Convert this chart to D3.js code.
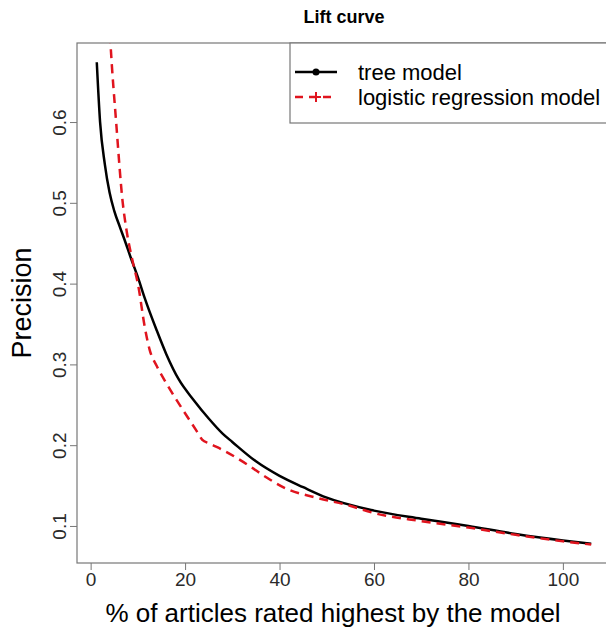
<!DOCTYPE html>
<html>
<head>
<meta charset="utf-8">
<script src="https://cdn.jsdelivr.net/npm/d3@7"></script>
<style>
  body { margin: 0; background: #fff; }
  svg { font-family: "Liberation Sans", Arial, sans-serif; }
</style>
</head>
<body>
<div id="chart"></div>
<script>
// lift curve data
const treeX = [1.3, 2, 3, 4, 5, 6.2, 7.2, 8.5, 10, 11.4, 14, 16, 18.7, 21.8, 25, 28, 30, 35, 40, 45, 50, 60, 70, 80, 90, 100, 106]
const treeY = [0.674, 0.6, 0.548, 0.513, 0.49, 0.47, 0.454, 0.432, 0.408, 0.383, 0.342, 0.313, 0.281, 0.256, 0.233, 0.214, 0.204, 0.18, 0.162, 0.148, 0.135, 0.119, 0.109, 0.1, 0.09, 0.082, 0.078]

const logitX = [2.5, 3.2, 4.2, 5.4, 6.8, 7.6, 9, 10, 11.5, 12.5, 14, 16, 19.5, 22.4, 23.6, 25.2, 28, 33.7, 37, 41.5, 47.8, 54.9, 60, 70, 80, 90, 100, 106]
const logitY = [0.95, 0.82, 0.698, 0.6, 0.5, 0.466, 0.425, 0.4, 0.345, 0.318, 0.298, 0.277, 0.244, 0.218, 0.207, 0.202, 0.194, 0.174, 0.161, 0.146, 0.135, 0.125, 0.116, 0.106, 0.098, 0.089, 0.081, 0.077]

const xTicks = [0, 20, 40, 60, 80, 100]
const yTicks = [0.1, 0.2, 0.3, 0.4, 0.5, 0.6]
const seriesNames = ['tree model', 'logistic regression model']

const width = 606
const height = 636
const margin = {top: 43, right: -5, bottom: 73, left: 77}
const axisColor = '#777'
const red = '#e0141e'
const font = '"Liberation Sans", Arial, sans-serif'

// R style range: data extent padded by 4%
const pad = (ext) => {
  const d = (ext[1] - ext[0]) * 0.04
  return [ext[0] - d, ext[1] + d]
}

const svg = d3.select('#chart')
  .append('svg')
    .attr('width', width)
    .attr('height', height)

const x = d3.scaleLinear()
  .domain(pad(d3.extent(treeX)))
  .range([margin.left, width - margin.right])
const y = d3.scaleLinear()
  .domain(pad(d3.extent(treeY)))
  .range([height - margin.bottom, margin.top])

svg.append('clipPath')
  .attr('id', 'plotclip')
  .append('rect')
    .attr('x', margin.left)
    .attr('y', margin.top)
    .attr('width', width - margin.right - margin.left)
    .attr('height', height - margin.bottom - margin.top)

// axes
const xAxis = svg.append('g')
  .attr('transform', `translate(0,${height - margin.bottom})`)
  .call(d3.axisBottom(x).tickValues(xTicks).tickSize(7).tickPadding(3).tickFormat(d3.format('d')))
const yAxis = svg.append('g')
  .attr('transform', `translate(${margin.left},0)`)
  .call(d3.axisLeft(y).tickValues(yTicks).tickSize(7).tickPadding(4).tickFormat(d3.format('.1f')))

;[xAxis, yAxis].forEach(a => {
  a.attr('font-family', font).attr('font-size', 19)
  a.select('.domain').remove()
  a.selectAll('.tick line').attr('stroke', axisColor)
  a.selectAll('.tick text').attr('fill', '#2a2a2a')
})
yAxis.selectAll('.tick text')
  .attr('text-anchor', 'middle')
  .attr('x', null)
  .attr('transform', 'translate(-18,0) rotate(-90)')
  .attr('dy', '0.35em')

// plot box
svg.append('rect')
  .attr('x', margin.left)
  .attr('y', margin.top)
  .attr('width', width - margin.right - margin.left)
  .attr('height', height - margin.bottom - margin.top)
  .attr('fill', 'none')
  .attr('stroke', axisColor)
  .attr('stroke-width', 1.2)

const line = d3.line()
  .x(d => x(d[0]))
  .y(d => y(d[1]))
  .curve(d3.curveMonotoneX)

const plot = svg.append('g').attr('clip-path', 'url(#plotclip)')

plot.append('path')
  .datum(d3.zip(treeX, treeY))
  .attr('d', line)
  .attr('fill', 'none')
  .attr('stroke', '#000')
  .attr('stroke-width', 2.5)

plot.append('path')
  .datum(d3.zip(logitX, logitY))
  .attr('d', line)
  .attr('fill', 'none')
  .attr('stroke', red)
  .attr('stroke-width', 2.5)
  .attr('stroke-dasharray', '9,6')

// legend
const legend = svg.append('g')
legend.append('rect')
  .attr('x', 290)
  .attr('y', margin.top)
  .attr('width', 340)
  .attr('height', 80)
  .attr('fill', '#fff')
  .attr('stroke', axisColor)
  .attr('stroke-width', 1.2)

const items = legend.selectAll('.item')
  .data(seriesNames)
  .enter()
  .append('g')
    .attr('class', 'item')
    .attr('transform', (d, i) => `translate(295,${72 + i * 25})`)
items.append('line')
  .attr('x1', 0)
  .attr('x2', 42)
  .attr('stroke', (d, i) => i == 0 ? '#000' : red)
  .attr('stroke-width', 2.5)
  .attr('stroke-dasharray', (d, i) => i == 0 ? null : '8,6')
items.filter((d, i) => i == 0).append('circle')
  .attr('cx', 21)
  .attr('r', 3.5)
  .attr('fill', '#000')
items.filter((d, i) => i == 1).append('path')
  .attr('d', 'M16,0H26M21,-5V5')
  .attr('stroke', red)
  .attr('stroke-width', 2)
items.append('text')
  .attr('x', 63)
  .attr('dy', '0.35em')
  .style('font-size', '22px')
  .text(d => d)

// titles
svg.append('text')
  .attr('x', (margin.left + width - margin.right) / 2)
  .attr('y', 23)
  .attr('text-anchor', 'middle')
  .style('font-size', '18px')
  .style('font-weight', 'bold')
  .text('Lift curve')

svg.append('text')
  .attr('x', (margin.left + width - margin.right) / 2 - 11)
  .attr('y', 622)
  .attr('text-anchor', 'middle')
  .style('font-size', '26px')
  .text('% of articles rated highest by the model')

svg.append('text')
  .attr('transform', `translate(31,${(margin.top + height - margin.bottom) / 2}) rotate(-90)`)
  .attr('text-anchor', 'middle')
  .style('font-size', '27px')
  .text('Precision')
</script>
</body>
</html>
